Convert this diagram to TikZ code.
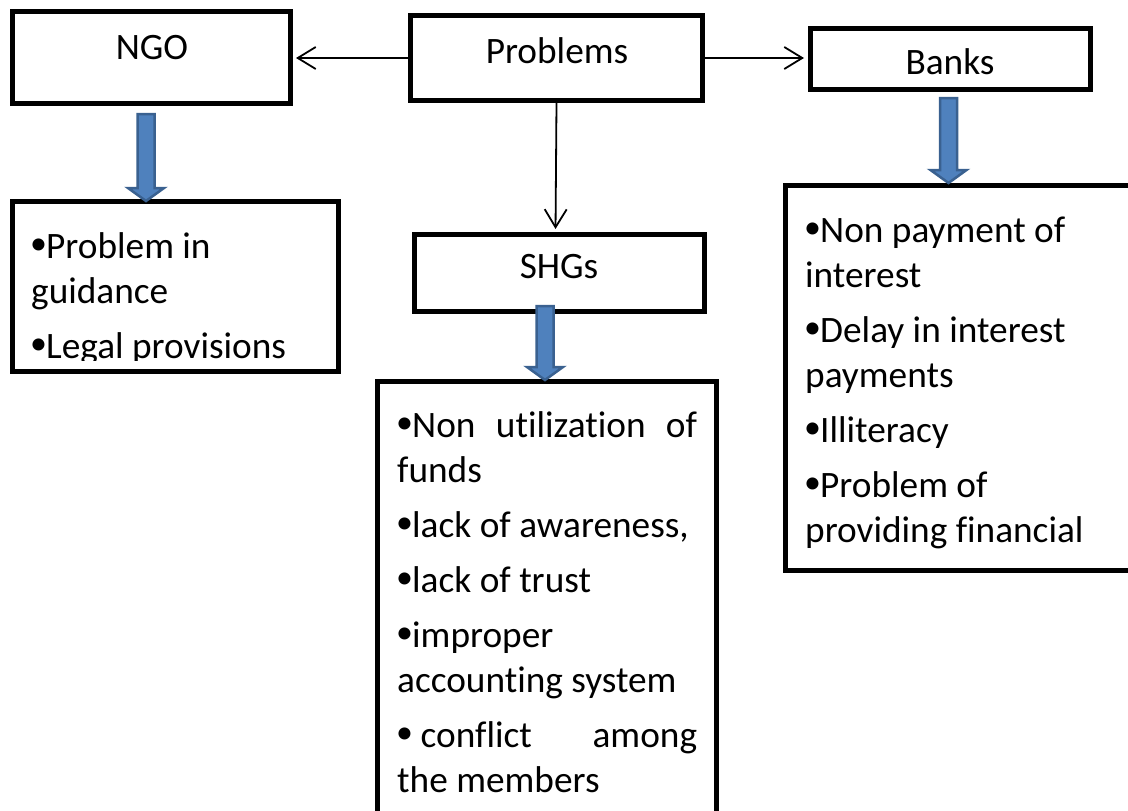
\documentclass[tikz,border=0pt]{standalone}
\usepackage{fontspec}
\setmainfont[Ligatures=NoCommon]{Carlito}
\usetikzlibrary{arrows.meta,calc}
\definecolor{blkfill}{HTML}{4F81BD}
\definecolor{blkdraw}{HTML}{3A6190}
\newcommand\bul{\makebox[15pt][l]{\hspace{-1pt}\raisebox{4pt}{\fontsize{34}{34}\selectfont •}}}
\newcommand\lst[1]{\vtop{\baselineskip=45pt\lineskiplimit=-100pt\lineskip=0pt #1}}
\newcommand\blockarr[2]{\draw[blockarrow] let \p1=(#1), \p2=(#2) in
  (\x1-8.5pt,\y1) -- (\x1+8.5pt,\y1) -- (\x1+8.5pt,\y2+13pt) -- (\x1+18pt,\y2+13pt)
  -- (\x2,\y2) -- (\x1-18pt,\y2+13pt) -- (\x1-8.5pt,\y2+13pt) -- cycle;}
\tikzset{
  box/.style={draw, line width=5pt, inner sep=0pt, rectangle},
  txt/.style={inner sep=0pt, font=\fontsize{37.3}{45}\selectfont},
  conn/.style={line width=1.8pt, -{Straight Barb[length=18pt,width=22pt]}},
  blockarrow/.style={fill=blkfill, draw=blkdraw, line width=2.5pt, line join=miter}
}
\begin{document}
\begin{tikzpicture}[x=1pt,y=-1pt]
\useasboundingbox (0,0) rectangle (1128,811);
\fill[white] (0,0) rectangle (1128,811);

% top boxes
\node[box, minimum width=278pt, minimum height=92pt] (ngo) at (151.5,57.5) {};
\node[txt, anchor=base] (ngotxt) at (152,59) {NGO};
\node[box, minimum width=292pt, minimum height=85pt] (problems) at (556.5,58) {};
\node[txt, anchor=base] (problemstxt) at (557,63) {Problems};
\node[box, minimum width=280pt, minimum height=61pt] (banks) at (950.5,59) {};
\node[txt, anchor=base] (bankstxt) at (950,74) {Banks};
\node[box, minimum width=290pt, minimum height=77pt] (shgs) at (559.5,273) {};
\node[txt, anchor=base] (shgstxt) at (559,278) {SHGs};

% list boxes
\node[box, minimum width=326pt, minimum height=170pt] (ngolist) at (175.5,286.5) {};
\node[box, minimum width=339pt, minimum height=450pt] (shglist) at (547,606.5) {};
\node[box, minimum width=360pt, minimum height=385pt] (banklist) at (965.5,378) {};

% list texts
\begin{scope}
\clip (0,0) rectangle (350,360.5);
\node[txt, anchor=base west] (ngoitems) at (31,258) {\lst{%
  \hbox{\bul Problem in}\hbox{guidance}\vskip10pt
  \hbox{\bul Legal provisions}}};
\end{scope}
\node[txt, anchor=base west] (shgitems) at (397,437) {\lst{%
  \hbox to 300pt{\bul Non\hfill utilization\hfill of}\hbox{funds}\vskip10pt
  \hbox{\bul lack of awareness,}\vskip10pt
  \hbox{\bul lack of trust}\vskip10pt
  \hbox{\bul improper}\hbox{accounting system}\vskip10pt
  \hbox to 300pt{\bul\ conflict\hfill among}\hbox{the members}}};
\node[txt, anchor=base west] (bankitems) at (805,242) {\lst{%
  \hbox{\bul Non payment of}\hbox{interest}\vskip10pt
  \hbox{\bul Delay in interest}\hbox{payments}\vskip10pt
  \hbox{\bul Illiteracy}\vskip10pt
  \hbox{\bul Problem of}\hbox{providing financial}}};

% thin connectors
\draw[conn, shorten >=3pt] (problems.west) -- (problems.west -| ngo.east);
\draw[conn, shorten >=4pt] (problems.east) -- (problems.east -| banks.west);
\draw[conn, shorten >=3pt] (problems.south) -- ([xshift=-4pt]shgs.north);

% block arrows
\coordinate (a1s) at (146,114);
\coordinate (a1e) at (146,201);
\coordinate (a2s) at (545,306);
\coordinate (a2e) at (545,380);
\coordinate (a3s) at (948.5,98);
\coordinate (a3e) at (948.5,183);
\blockarr{a1s}{a1e}
\blockarr{a2s}{a2e}
\blockarr{a3s}{a3e}
\end{tikzpicture}
\end{document}
